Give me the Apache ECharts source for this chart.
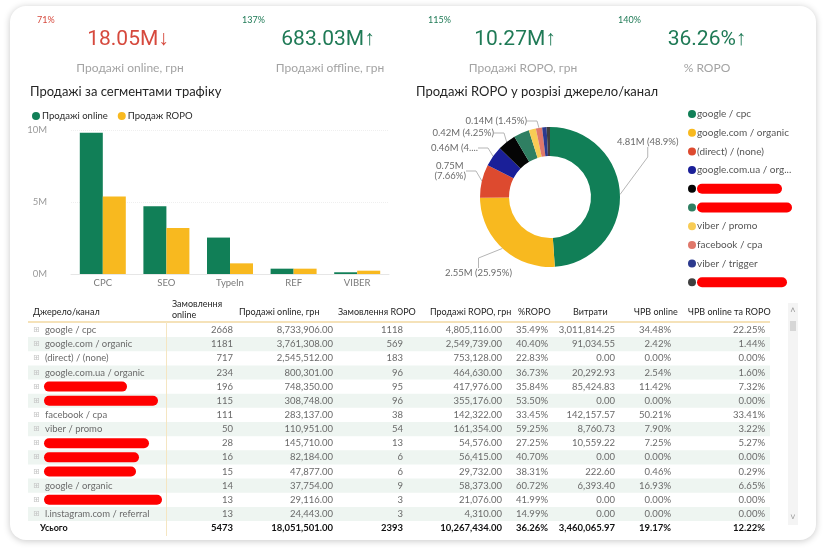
<!DOCTYPE html>
<html>
<head>
<meta charset="utf-8">
<script src="https://cdn.jsdelivr.net/npm/echarts/dist/echarts.min.js"></script>
<style>
html, body { margin: 0; padding: 0; background: #fff; width: 826px; height: 555px; overflow: hidden; }
#card { position: absolute; left: 10px; top: 6px; width: 806px; height: 534px; border-radius: 16px; background: #fff; box-shadow: 0 1px 7px rgba(0,0,0,.22); }
#main { position: absolute; left: 0; top: 0; width: 826px; height: 555px; }
</style>
</head>
<body>
<div id="card"></div>
<div id="main"></div>
<script>
// KPI картки
var kpiValues = ['18.05M', '683.03M', '10.27M', '36.26%'];
var kpiLabels = ['Продажі online, грн', 'Продажі offline, грн', 'Продажі ROPO, грн', '% ROPO'];
var kpiChange = ['71%', '137%', '115%', '140%'];
var kpiUp = [false, true, true, true];

// стовпчики по сегментах
var segments = ['CPC', 'SEO', 'TypeIn', 'REF', 'VIBER'];
var onlineSales = [9.81e6, 4.71e6, 2.53e6, 0.37e6, 0.12e6];
var ropoSegSales = [5.38e6, 3.20e6, 0.74e6, 0.37e6, 0.23e6];

// кільце ROPO (null = замазано)
var ropoChannels = ['google / cpc', 'google.com / organic', '(direct) / (none)', 'google.com.ua / organic', null, null, 'viber / promo', 'facebook / cpa', 'viber / trigger', null];
var ropoValues = [4805116, 2549739, 753128, 464630, 417976, 355176, 161354, 142322, 100000, 76500];

// таблиця
var channels = ['google / cpc', 'google.com / organic', '(direct) / (none)', 'google.com.ua / organic', null, null, 'facebook / cpa', 'viber / promo', null, null, null, 'google / organic', null, 'l.instagram.com / referral'];
var ordersOnline = [2668, 1181, 717, 234, 196, 115, 111, 50, 28, 16, 15, 14, 13, 13];
var salesOnline = [8733906, 3761308, 2545512, 800301, 748350, 308748, 283137, 110951, 145710, 82184, 47877, 37754, 29116, 24443];
var ordersRopo = [1118, 569, 183, 96, 95, 96, 38, 54, 13, 6, 6, 9, 3, 3];
var salesRopo = [4805116, 2549739, 753128, 464630, 417976, 355176, 142322, 161354, 54576, 56415, 29732, 58373, 21076, 4310];
var ropoPct = [35.49, 40.40, 22.83, 36.73, 35.84, 53.50, 33.45, 59.25, 27.25, 40.70, 38.31, 60.72, 41.99, 14.99];
var costs = [3011814.25, 91034.55, 0, 20292.93, 85424.83, 0, 142157.57, 8760.73, 10559.22, 0, 222.60, 6393.40, 0, 0];
var roiOnline = [34.48, 2.42, 0, 2.54, 11.42, 0, 50.21, 7.90, 7.25, 0, 0.46, 16.93, 0, 0];
var roiTotal = [22.25, 1.44, 0, 1.60, 7.32, 0, 33.41, 3.22, 5.27, 0, 0.29, 6.65, 0, 0];
var totals = [5473, 18051501, 2393, 10267434, 36.26, 3460065.97, 19.17, 12.22];
var headers = ['Джерело/канал', 'Замовлення\nonline', 'Продажі online, грн', 'Замовлення ROPO', 'Продажі ROPO, грн', '%ROPO', 'Витрати', 'ЧРВ online', 'ЧРВ online та ROPO'];

var GREEN = '#117f57', YELLOW = '#f8b91f', RED_KPI = '#d6493d';
var FONT = 'Lato, "Open Sans", sans-serif';
var pieColors = ['#117f57', '#f8b91f', '#dd4a2f', '#1a1f98', '#050505', '#2f7f62', '#f8cc55', '#e0786b', '#2c3a8e', '#3f3f3f'];

var myChart = echarts.init(document.getElementById('main'));

function money(v) {
    return v.toLocaleString('en-US', {minimumFractionDigits: 2, maximumFractionDigits: 2});
}
function pct(v) { return v.toFixed(2) + '%'; }

var graphics = [];

// KPI
var kpiX = [128, 328, 515, 707];
var kpiLabelX = [130, 330, 523, 707];
var kpiChangeX = [37, 242, 428, 618];
for (let i = 0; i < kpiValues.length; i++) {
    var col = kpiUp[i] ? '#1f7a56' : RED_KPI;
    graphics.push({type: 'text', x: kpiChangeX[i], y: 20, style: {text: kpiChange[i], fill: col, fontSize: 9, fontFamily: FONT, align: 'left', verticalAlign: 'middle'}});
    graphics.push({type: 'text', x: kpiX[i], y: 40, style: {text: kpiValues[i] + (kpiUp[i] ? '↑' : '↓'), fill: col, fontSize: 21, fontFamily: 'Roboto, sans-serif', align: 'center', verticalAlign: 'middle'}});
    graphics.push({type: 'text', x: kpiLabelX[i], y: 68, style: {text: kpiLabels[i], fill: '#a3a3a3', fontSize: 12, fontFamily: FONT, align: 'center', verticalAlign: 'middle'}});
}

// заголовки блоків
graphics.push({type: 'text', x: 30, y: 92, style: {text: 'Продажі за сегментами трафіку', fill: '#252525', fontSize: 13, fontFamily: FONT, align: 'left', verticalAlign: 'middle'}});
graphics.push({type: 'text', x: 416, y: 92, style: {text: 'Продажі ROPO у розрізі джерело/канал', fill: '#252525', fontSize: 13, fontFamily: FONT, align: 'left', verticalAlign: 'middle'}});

// таблиця
var colRight = [0, 233, 333, 403, 502, 548, 615, 671, 765];
var headX = [33, 172, 239, 338, 430, 518, 573, 634, 688];
var rowY0 = 330, rowH = 14.15;
var redactW = [83, 114, 105, 95, 92, 118];

for (let c = 0; c < headers.length; c++) {
    graphics.push({type: 'text', x: headX[c], y: c === 1 ? 310 : 312, style: {text: headers[c], fill: '#1e1e1e', fontSize: 9, lineHeight: 11, fontFamily: FONT, align: 'left', verticalAlign: 'middle'}});
}
for (let r = 0; r < channels.length; r++) {
    if (r % 2 === 1) {
        graphics.push({type: 'rect', shape: {x: 28, y: rowY0 + r * rowH - rowH / 2, width: 742, height: rowH}, style: {fill: '#eef5f1'}, z: -1});
    }
}
graphics.push({type: 'line', shape: {x1: 28, y1: 322, x2: 770, y2: 322}, style: {stroke: '#f2d9a2', lineWidth: 1.5}});
graphics.push({type: 'line', shape: {x1: 166.5, y1: 322, x2: 166.5, y2: 536}, style: {stroke: '#f5e6c2', lineWidth: 1}});

var ri = 0;
for (let r = 0; r < channels.length; r++) {
    var y = rowY0 + r * rowH;
    graphics.push({type: 'text', x: 33, y: y, style: {text: '⊞', fill: '#c4c4c4', fontSize: 8, fontFamily: 'DejaVu Sans', align: 'left', verticalAlign: 'middle'}});
    if (channels[r]) {
        graphics.push({type: 'text', x: 45, y: y, style: {text: channels[r], fill: '#6a6a6a', fontSize: 9.5, fontFamily: FONT, align: 'left', verticalAlign: 'middle'}});
    } else {
        graphics.push({type: 'rect', shape: {x: 44, y: y - 5, width: redactW[ri++], height: 10, r: 5}, style: {fill: '#ff0000'}});
    }
    var cells = [String(ordersOnline[r]), money(salesOnline[r]), String(ordersRopo[r]), money(salesRopo[r]), pct(ropoPct[r]), money(costs[r]), pct(roiOnline[r]), pct(roiTotal[r])];
    for (let c = 0; c < cells.length; c++) {
        graphics.push({type: 'text', x: colRight[c + 1], y: y, style: {text: cells[c], fill: '#6a6a6a', fontSize: 9.5, fontFamily: FONT, align: 'right', verticalAlign: 'middle'}});
    }
}
var yt = rowY0 + channels.length * rowH;
graphics.push({type: 'text', x: 40, y: yt, style: {text: 'Усього', fill: '#111', fontSize: 9, fontWeight: 'bold', fontFamily: FONT, align: 'left', verticalAlign: 'middle'}});
var totCells = [String(totals[0]), money(totals[1]), String(totals[2]), money(totals[3]), pct(totals[4]), money(totals[5]), pct(totals[6]), pct(totals[7])];
for (let c = 0; c < totCells.length; c++) {
    graphics.push({type: 'text', x: colRight[c + 1], y: yt, style: {text: totCells[c], fill: '#111', fontSize: 9.5, fontWeight: 'bold', fontFamily: FONT, align: 'right', verticalAlign: 'middle'}});
}

// скролбар
graphics.push({type: 'rect', shape: {x: 788, y: 303, width: 10, height: 222}, style: {fill: '#f4f4f4'}});
graphics.push({type: 'rect', shape: {x: 790, y: 321, width: 6, height: 10}, style: {fill: '#d6d6d6'}});
graphics.push({type: 'text', x: 793, y: 311, style: {text: '˄', fill: '#999', fontSize: 9, align: 'center', verticalAlign: 'middle'}});
graphics.push({type: 'text', x: 793, y: 518, style: {text: '˅', fill: '#999', fontSize: 9, align: 'center', verticalAlign: 'middle'}});

// дані кільця
var pieTotal = ropoValues.reduce(function (a, b) { return a + b; }, 0);
var pieData = [];
var hiddenLegendW = [85, 95, 90];
var legendNames = [];
for (let i = 0; i < ropoValues.length; i++) {
    var nm = ropoChannels[i] || ('hidden' + i);
    legendNames.push(nm);
    var item = {name: nm, value: ropoValues[i], itemStyle: {color: pieColors[i]}};
    if (i === 2) item.label = {width: 40, overflow: 'break'};
    if (i === 3) item.label = {width: 52, overflow: 'truncate', ellipsis: '...'};
    if (i === 5 || i === 6 || i === 8 || i === 9) {
        item.label = {show: false};
        item.labelLine = {show: false};
    }
    pieData.push(item);
}

var PIE_CX = 550, PIE_CY = 197;
// розташування підписів як у Power BI (зсув від центру кільця)
var labelPos = {
    0: {dx: 67, dy: -55, align: 'left'},
    1: {dx: -38, dy: 76, align: 'right'},
    2: {dx: -84, dy: -26, align: 'right'},
    3: {dx: -72, dy: -49, align: 'right'},
    4: {dx: -56, dy: -64, align: 'right'},
    7: {dx: -23, dy: -76, align: 'right'}
};

var option = {
    animation: false,
    textStyle: {fontFamily: FONT},
    graphic: graphics,
    legend: [{
        data: ['Продажі online', 'Продаж ROPO'],
        left: 27, top: 106, orient: 'horizontal',
        icon: 'circle', itemWidth: 8, itemHeight: 8, itemGap: 10,
        textStyle: {fontSize: 9.5, color: '#2a2a2a', padding: [0, 0, 0, -3]}
    }, {
        data: legendNames,
        left: 683, top: 104, orient: 'vertical',
        icon: 'circle', itemWidth: 8, itemHeight: 8, itemGap: 8.7,
        textStyle: {
            fontSize: 10, color: '#555', width: 98, overflow: 'truncate', ellipsis: '...',
            padding: [0, 0, 0, -4],
            rich: {
                r0: {width: hiddenLegendW[0], height: 10, backgroundColor: '#ff0000', borderRadius: 5},
                r1: {width: hiddenLegendW[1], height: 10, backgroundColor: '#ff0000', borderRadius: 5},
                r2: {width: hiddenLegendW[2], height: 10, backgroundColor: '#ff0000', borderRadius: 5}
            }
        },
        formatter: function (name) {
            if (name.indexOf('hidden') === 0) {
                var k = [4, 5, 9].indexOf(+name.slice(6));
                return '{r' + k + '|}';
            }
            return name;
        }
    }],
    grid: {left: 71, right: 437, top: 130, bottom: 281, containLabel: false, outerBoundsMode: 'none'},
    xAxis: {
        type: 'category', data: segments,
        axisTick: {show: false},
        axisLine: {lineStyle: {color: '#e6e6e6'}},
        axisLabel: {color: '#7a7a7a', fontSize: 9.5, margin: 4}
    },
    yAxis: {
        type: 'value', min: 0, max: 10e6, interval: 5e6,
        axisLabel: {color: '#9a9a9a', fontSize: 9.5, margin: 24, formatter: function (v) { return (v / 1e6) + 'M'; }},
        splitLine: {lineStyle: {color: '#efefef', type: 'dotted'}}
    },
    series: [{
        name: 'Продажі online', type: 'bar', data: onlineSales,
        barWidth: 23, barGap: '0%', itemStyle: {color: GREEN}
    }, {
        name: 'Продаж ROPO', type: 'bar', data: ropoSegSales,
        barWidth: 23, itemStyle: {color: YELLOW}
    }, {
        name: 'ROPO', type: 'pie', center: [PIE_CX, PIE_CY], radius: [41, 70],
        startAngle: 90, clockwise: true, data: pieData,
        label: {
            color: '#6a6a6a', fontSize: 9.5, fontFamily: FONT,
            formatter: function (p) {
                var pc = parseFloat((p.value / pieTotal * 100).toFixed(2));
                return (p.value / 1e6).toFixed(2) + 'M (' + pc + '%)';
            }
        },
        labelLine: {length: 8, length2: 10, lineStyle: {color: '#b5b5b5'}},
        labelLayout: function (p) {
            var lp = labelPos[p.dataIndex];
            if (!lp) return {};
            return {x: PIE_CX + lp.dx, y: PIE_CY + lp.dy, align: lp.align, verticalAlign: 'middle'};
        },
        emphasis: {disabled: true}
    }]
};
myChart.setOption(option);
</script>
</body>
</html>
